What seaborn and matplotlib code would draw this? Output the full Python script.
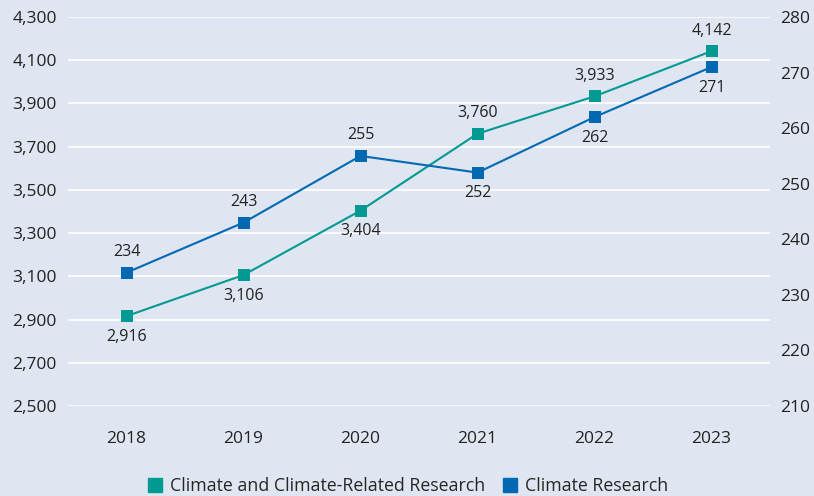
import numpy as np
import pandas as pd
import seaborn as sns
import matplotlib.pyplot as plt
from matplotlib.lines import Line2D

years = ["2018", "2019", "2020", "2021", "2022", "2023"]
related = [2916, 3106, 3404, 3760, 3933, 4142]
climate = [234, 243, 255, 252, 262, 271]
related_pos = ["below", "below", "below", "above", "above", "above"]
climate_pos = ["above", "above", "above", "below", "below", "below"]

bg = "#dfe6f1"
teal = "#009a93"
blue = "#0069b1"

sns.set_theme(style="white")
plt.rcParams["font.family"] = ["Open Sans", "DejaVu Sans"]

df = pd.DataFrame({"year": years, "related": related, "climate": climate})
df["x"] = np.arange(len(years))

fig = plt.figure(figsize=(8.14, 4.96), dpi=100, facecolor=bg)
ax = fig.add_axes([68 / 814, 1 - 406 / 496, 702 / 814, 389 / 496])
ax.set_facecolor(bg)
ax2 = ax.twinx()

sns.lineplot(data=df, x="x", y="related", ax=ax, color=teal, marker="s",
             markersize=8.5, markeredgewidth=0, linewidth=1.5, zorder=3)
sns.lineplot(data=df, x="x", y="climate", ax=ax2, color=blue, marker="s",
             markersize=8.5, markeredgewidth=0, linewidth=1.5, zorder=3)

ax.set_xlim(-0.5, 5.5)
ax.set_ylim(2500, 4300)
ax.set_yticks(range(2500, 4301, 200))
ax.set_yticklabels([f"{v:,}" for v in range(2500, 4301, 200)])
ax2.set_ylim(210, 280)
ax2.set_yticks(range(210, 281, 10))
ax.set_xticks(df["x"])
ax.set_xticklabels(years)
ax.grid(axis="y", color="white", linewidth=1.2)
ax.set_axisbelow(True)
ax.set_xlabel("")
ax.set_ylabel("")
ax2.set_ylabel("")
for a in (ax, ax2):
    for s in a.spines.values():
        s.set_visible(False)
    a.tick_params(length=0, labelsize=12.5, colors="#222222")
ax.tick_params(axis="y", pad=8)
ax.tick_params(axis="x", pad=18)
ax2.tick_params(axis="y", pad=7)

for i, (v, p) in enumerate(zip(related, related_pos)):
    off = 9 if p == "above" else -9
    ax.annotate(f"{v:,}", (i, v), xytext=(0, off), textcoords="offset points",
                ha="center", va="bottom" if p == "above" else "top",
                fontsize=11.5, color="#222222")
for i, (v, p) in enumerate(zip(climate, climate_pos)):
    off = 9 if p == "above" else -9
    ax2.annotate(f"{v}", (i, v), xytext=(0, off), textcoords="offset points",
                 ha="center", va="bottom" if p == "above" else "top",
                 fontsize=11.5, color="#222222")

handles = [
    Line2D([], [], marker="s", linestyle="", color=teal, markersize=10),
    Line2D([], [], marker="s", linestyle="", color=blue, markersize=10),
]
fig.legend(handles, ["Climate and Climate-Related Research", "Climate Research"],
           loc="center", bbox_to_anchor=(0.5, 1 - 486 / 496), ncol=2, frameon=False,
           fontsize=12.8, handlelength=1.0, handletextpad=0.35, columnspacing=0.9)

fig.savefig("out.png", dpi=100, facecolor=bg)
